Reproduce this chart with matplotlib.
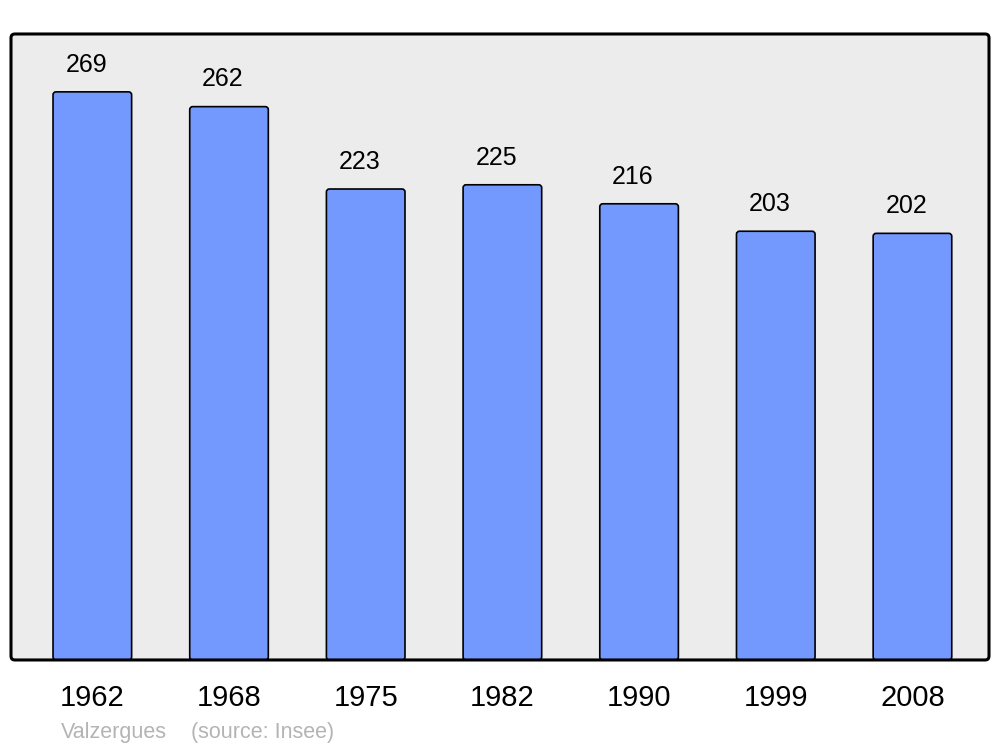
import numpy as np
import matplotlib.pyplot as plt
from matplotlib.patches import FancyBboxPatch

plt.rcParams['font.family'] = ['Liberation Sans', 'DejaVu Sans']

# population data
years = ['1962', '1968', '1975', '1982', '1990', '1999', '2008']
population = [269, 262, 223, 225, 216, 203, 202]

fig = plt.figure(figsize=(10, 7.47), dpi=100)
ax = fig.add_axes([0.011, 0.1165, 0.978, 0.838])
ax.set_facecolor('none')

x = np.arange(len(years))
bars = ax.bar(x, population, width=0.575, color='#7399ff',
              edgecolor='black', linewidth=1.2)

# swap bars for rounded-corner versions
for b in bars:
    bx, by = b.get_x(), b.get_y()
    w, h = b.get_width(), b.get_height()
    rb = FancyBboxPatch((bx, by), w, h,
                        boxstyle='round,pad=0,rounding_size=0.022',
                        mutation_aspect=64.7, facecolor='#7399ff',
                        edgecolor='black', linewidth=1.2, zorder=2)
    ax.add_patch(rb)
    b.set_visible(False)

for xi, v in zip(x, population):
    ax.annotate(str(v), (xi, v), xytext=(-4.5, 11), textcoords='offset points',
                ha='center', va='bottom', fontsize=18)

ax.set_xlim(-0.595, 6.56)
ax.set_ylim(0, 296.4)
ax.set_xticks(x)
ax.set_xticklabels(years, fontsize=21)
ax.tick_params(axis='x', length=0, pad=17)
ax.set_yticks([])
for s in ax.spines.values():
    s.set_visible(False)

# rounded frame with grey background
frame_bg = FancyBboxPatch((0, 0), 1, 1, boxstyle='round,pad=0,rounding_size=0.004',
                          mutation_aspect=978 / 626, transform=ax.transAxes,
                          facecolor='#ececec', edgecolor='none', zorder=0)
ax.add_patch(frame_bg)
frame = FancyBboxPatch((0, 0), 1, 1, boxstyle='round,pad=0,rounding_size=0.004',
                       mutation_aspect=978 / 626, transform=ax.transAxes,
                       facecolor='none', edgecolor='black', linewidth=2.2,
                       zorder=5, clip_on=False)
ax.add_patch(frame)

fig.text(0.061, 0.0125, 'Valzergues', color='#b4b4b4', fontsize=15.5)
fig.text(0.191, 0.0125, '(source: Insee)', color='#b4b4b4', fontsize=15.5)

fig.savefig('out.png')
